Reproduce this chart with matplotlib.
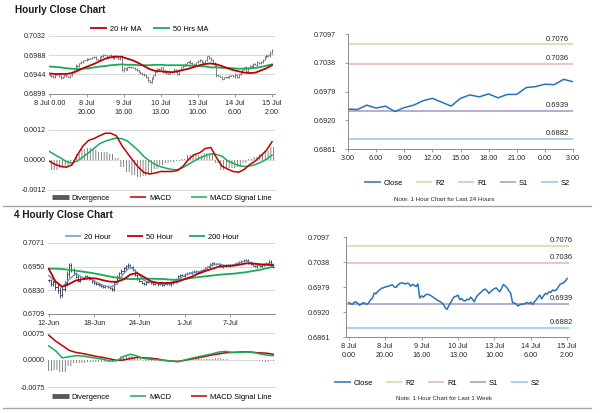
import numpy as np
import matplotlib
matplotlib.use('Agg')
import matplotlib.pyplot as plt
from matplotlib.lines import Line2D

plt.rcParams['font.family'] = ['Liberation Sans', 'DejaVu Sans']
plt.rcParams['hatch.linewidth'] = 0.6

# ---------------- hourly data, last week (8 Jul 0.00 -> 15 Jul 2.00) ----------------
hourly_close = [
    0.6942, 0.6940, 0.6938, 0.6943, 0.6944, 0.6940, 0.6936, 0.6939, 0.6942, 0.6940,
    0.6938, 0.6942, 0.6949, 0.6952, 0.6965, 0.6963, 0.6969, 0.6972, 0.6976, 0.6977,
    0.6979, 0.6980, 0.6981, 0.6983, 0.6984, 0.6979, 0.6978, 0.6984, 0.6987, 0.6989,
    0.6988, 0.6986, 0.6988, 0.6987, 0.6981, 0.6985, 0.6983, 0.6980, 0.6986, 0.6953,
    0.6958, 0.6955, 0.6960, 0.6962, 0.6961, 0.6959, 0.6956, 0.6953, 0.6950, 0.6947,
    0.6945, 0.6942, 0.6938, 0.6930, 0.6926, 0.6935, 0.6942, 0.6950, 0.6956, 0.6957,
    0.6960, 0.6949, 0.6952, 0.6947, 0.6946, 0.6950, 0.6949, 0.6955, 0.6950, 0.6944,
    0.6955, 0.6960, 0.6964, 0.6968, 0.6972, 0.6974, 0.6970, 0.6964, 0.6968, 0.6972,
    0.6975, 0.6977, 0.6972, 0.6968, 0.6976, 0.6985, 0.6981, 0.6977, 0.6970, 0.6964,
    0.6942, 0.6941, 0.6939, 0.6934, 0.6937, 0.6939, 0.6938, 0.6941, 0.6942, 0.6940,
    0.6943, 0.6938, 0.6944, 0.6949, 0.6955, 0.6960, 0.6951, 0.6958, 0.6964, 0.6962,
    0.6968, 0.6966, 0.6972, 0.6970, 0.6972, 0.6978, 0.6985, 0.6987, 0.6989, 0.6993,
    0.6999,
]
# half high-low extension beyond the body, in pips
hourly_wick = [
    3, 2, 4, 3, 2, 5, 3, 2, 3, 4, 2, 3, 5, 4, 6, 3, 2, 4, 3, 2,
    3, 4, 2, 3, 5, 3, 2, 4, 3, 5, 4, 3, 2, 4, 3, 5, 3, 2, 6, 4,
    5, 3, 2, 4, 3, 2, 3, 4, 3, 2, 4, 3, 5, 6, 4, 5, 3, 4, 3, 2,
    4, 3, 2, 3, 4, 2, 3, 5, 3, 4, 3, 2, 4, 3, 2, 3, 4, 3, 2, 3,
    4, 3, 2, 5, 4, 3, 5, 4, 3, 4, 6, 3, 2, 4, 3, 2, 3, 4, 2, 3,
    9, 4, 3, 2, 4, 3, 5, 3, 2, 4, 3, 2, 4, 3, 5, 4, 3, 6, 5, 10,
    6,
]
hourly_labels = ['8 Jul 0.00', '8 Jul\n20.00', '9 Jul\n16.00', '10 Jul\n13.00',
                 '13 Jul\n10.00', '14 Jul\n6.00', '15 Jul\n2.00']
week_labels = ['8 Jul\n0.00', '8 Jul\n20.00', '9 Jul\n16.00', '10 Jul\n13.00',
               '13 Jul\n10.00', '14 Jul\n6.00', '15 Jul\n2.00']

# indicators read every third hour
ma20_hr = [0.6946, 0.6945, 0.6945, 0.6945, 0.6947, 0.6952, 0.6958, 0.6963, 0.6968, 0.6974,
           0.6980, 0.6983, 0.6985, 0.6984, 0.6980, 0.6976, 0.6970, 0.6963, 0.6956, 0.6952,
           0.6951, 0.6950, 0.6949, 0.6951, 0.6954, 0.6957, 0.6961, 0.6965, 0.6968, 0.6969,
           0.6967, 0.6963, 0.6958, 0.6954, 0.6951, 0.6948, 0.6947, 0.6948, 0.6953, 0.6958,
           0.6965]
ma50_hr = [0.6962, 0.6961, 0.6960, 0.6958, 0.6957, 0.6956, 0.6957, 0.6958, 0.6960, 0.6962,
           0.6963, 0.6965, 0.6966, 0.6967, 0.6966, 0.6966, 0.6965, 0.6965, 0.6965, 0.6966,
           0.6966, 0.6965, 0.6965, 0.6965, 0.6965, 0.6964, 0.6964, 0.6963, 0.6962, 0.6960,
           0.6960, 0.6959, 0.6959, 0.6958, 0.6957, 0.6957, 0.6958, 0.6959, 0.6961, 0.6964,
           0.6967]
macd_hr = [-0.00005, -0.00018, -0.00025, -0.00029, -0.00020, 0.00020, 0.00056, 0.00078,
           0.00086, 0.00097, 0.00107, 0.00107, 0.00097, 0.00058, 0.00027, -0.00002,
           -0.00030, -0.00050, -0.00056, -0.00052, -0.00046, -0.00046, -0.00046, -0.00042,
           -0.00025, 0.00003, 0.00021, 0.00029, 0.00046, 0.00050, 0.00010, -0.00025,
           -0.00036, -0.00046, -0.00049, -0.00038, -0.00018, -0.00004, 0.00017, 0.00039,
           0.00073]
signal_hr = [0.00034, 0.00020, 0.00008, -0.00006, -0.00013, -0.00004, 0.00012, 0.00029,
             0.00047, 0.00065, 0.00075, 0.00082, 0.00088, 0.00085, 0.00076, 0.00057,
             0.00037, 0.00013, -0.00004, -0.00018, -0.00027, -0.00033, -0.00038, -0.00039,
             -0.00030, -0.00017, -0.00004, 0.00008, 0.00017, 0.00025, 0.00022, 0.00015,
             -0.00003, -0.00013, -0.00022, -0.00026, -0.00024, -0.00018, -0.00009, 0.00003,
             0.00020]

# ---------------- last 24 hours ----------------
day_close = [0.6943, 0.6942, 0.6951, 0.6945, 0.6949, 0.6938, 0.6946, 0.6951, 0.6960,
             0.6965, 0.6957, 0.6949, 0.6965, 0.6972, 0.6968, 0.6974, 0.6966, 0.6973,
             0.6973, 0.6987, 0.6989, 0.6994, 0.6993, 0.7004, 0.6999]
day_labels = ['3.00', '6.00', '9.00', '12.00', '15.00', '18.00', '21.00', '0.00', '3.00']

levels = [0.7076, 0.7036, 0.6939, 0.6882]
level_names = ['R2', 'R1', 'S1', 'S2']
level_colors = ['#d6d6a4', '#e2b6b6', '#a595bf', '#8ecbdd']

# ---------------- 4 hourly data ----------------
h4_close = [
    0.6880, 0.6862, 0.6872, 0.6845, 0.6830, 0.6808, 0.6835, 0.6868, 0.6912, 0.6958,
    0.6935, 0.6915, 0.6900, 0.6878, 0.6890, 0.6895, 0.6902, 0.6896, 0.6888, 0.6875,
    0.6868, 0.6862, 0.6856, 0.6850, 0.6848, 0.6852, 0.6846, 0.6840, 0.6836, 0.6870,
    0.6900, 0.6918, 0.6930, 0.6942, 0.6952, 0.6960, 0.6948, 0.6935, 0.6908, 0.6890,
    0.6875, 0.6868, 0.6864, 0.6870, 0.6874, 0.6868, 0.6862, 0.6866, 0.6860, 0.6864,
    0.6858, 0.6862, 0.6866, 0.6860, 0.6868, 0.6874, 0.6890, 0.6902, 0.6908, 0.6905,
    0.6912, 0.6916, 0.6920, 0.6925, 0.6922, 0.6926, 0.6924, 0.6930, 0.6934, 0.6942,
    0.6950, 0.6960, 0.6968, 0.6964, 0.6966, 0.6960, 0.6955, 0.6952, 0.6958, 0.6956,
    0.6960, 0.6958, 0.6964, 0.6970, 0.6976, 0.6980, 0.6984, 0.6982, 0.6972, 0.6964,
    0.6956, 0.6952, 0.6958, 0.6955, 0.6960, 0.6966, 0.6970, 0.6976, 0.6958, 0.6950,
]
h4_wick = [
    15, 20, 18, 25, 30, 35, 25, 22, 30, 25, 20, 15, 18, 12, 15, 10, 12, 14, 10, 12,
    10, 12, 8, 10, 12, 10, 8, 12, 15, 18, 12, 10, 12, 14, 18, 15, 12, 14, 10, 12,
    10, 8, 10, 12, 8, 10, 8, 10, 12, 8, 10, 12, 10, 8, 14, 12, 10, 12, 10, 8,
    10, 12, 8, 10, 12, 10, 8, 10, 12, 10, 12, 14, 10, 12, 10, 8, 10, 12, 10, 8,
    10, 12, 10, 8, 10, 12, 14, 10, 12, 10, 8, 10, 12, 10, 8, 10, 12, 14, 12, 10,
]
h4_labels = ['12-Jun', '18-Jun', '24-Jun', '1-Jul', '7-Jul']

# every third 4h bar
ma20_h4 = [0.6905, 0.6875, 0.6845, 0.6885, 0.6915, 0.6895, 0.6892, 0.6872, 0.6855, 0.6845,
           0.6862, 0.6915, 0.6950, 0.6920, 0.6880, 0.6870, 0.6864, 0.6862, 0.6864, 0.6885,
           0.6906, 0.6920, 0.6924, 0.6936, 0.6960, 0.6964, 0.6956, 0.6958, 0.6970, 0.6980,
           0.6966, 0.6956, 0.6964, 0.6962]
ma50_h4 = [0.6940, 0.6875, 0.6848, 0.6862, 0.6880, 0.6886, 0.6892, 0.6890, 0.6881, 0.6874,
           0.6873, 0.6885, 0.6910, 0.6918, 0.6898, 0.6876, 0.6868, 0.6867, 0.6868, 0.6874,
           0.6887, 0.6899, 0.6915, 0.6928, 0.6939, 0.6950, 0.6954, 0.6955, 0.6960, 0.6967,
           0.6967, 0.6963, 0.6960, 0.6958]
ma200_h4 = [0.6940, 0.6940, 0.6938, 0.6934, 0.6930, 0.6925, 0.6920, 0.6914, 0.6907, 0.6900,
            0.6894, 0.6889, 0.6887, 0.6888, 0.6889, 0.6889, 0.6888, 0.6887, 0.6884, 0.6883,
            0.6886, 0.6893, 0.6897, 0.6901, 0.6905, 0.6909, 0.6912, 0.6914, 0.6918, 0.6922,
            0.6928, 0.6934, 0.6942, 0.6950]
macd_h4 = [0.0039, 0.0026, 0.0006, 0.0009, 0.0012, 0.0011, 0.0008, 0.0005, 0.0002, -0.0003,
           -0.0002, 0.0010, 0.0016, 0.0011, 0.0004, 0.0002, 0.0001, -0.0001, -0.0003, -0.0005,
           0.0000, 0.0005, 0.0009, 0.0013, 0.0017, 0.0022, 0.0024, 0.0021, 0.0021, 0.0022,
           0.0022, 0.0017, 0.0014, 0.0012]
signal_h4 = [0.0069, 0.0053, 0.0040, 0.0027, 0.0021, 0.0018, 0.0014, 0.0010, 0.0007, 0.0003,
             -0.0001, 0.0000, 0.0004, 0.0007, 0.0006, 0.0005, 0.0003, -0.0001, -0.0003, -0.0004,
             -0.0001, 0.0003, 0.0006, 0.0010, 0.0014, 0.0017, 0.0020, 0.0021, 0.0022, 0.0023,
             0.0021, 0.0020, 0.0019, 0.0016]

RED = '#c00000'
GREEN = '#1aab5a'
BLUE = '#2a72b5'
GRAY = '#8c8c8c'
W, H = 600, 413

fig = plt.figure(figsize=(6, 4.13), dpi=100)


def box(l, t, r, b):
    return [l / W, 1 - b / H, (r - l) / W, (b - t) / H]


def style(ax, grid, ypad):
    for s in ['top', 'right']:
        ax.spines[s].set_visible(False)
    for s in ['left', 'bottom']:
        ax.spines[s].set_color(GRAY)
        ax.spines[s].set_linewidth(0.7)
    ax.tick_params(labelsize=5.2, colors=GRAY, labelcolor='#262626', length=2.5, width=0.6)
    ax.tick_params(axis='y', pad=ypad)
    ax.tick_params(axis='x', pad=2)
    if grid:
        ax.yaxis.grid(True, color='#d9d9d9', lw=0.7)
        ax.set_axisbelow(True)
        ax.tick_params(axis='y', length=0)


def ohlc(ax, close, wick, color):
    c = np.array(close)
    o = np.r_[c[0], c[:-1]]
    w = np.array(wick) * 1e-4 / 2
    x = np.arange(len(c))
    ax.vlines(x, np.minimum(o, c) - w, np.maximum(o, c) + w, color=color, lw=0.7)
    ax.hlines(c, x, x + 0.6, color=color, lw=0.6)
    ax.hlines(o, x - 0.6, x, color=color, lw=0.6)


def divergence(ax, x, macd, signal, width):
    ax.bar(x, np.array(macd) - np.array(signal), width=width, facecolor='white',
           edgecolor='#6e6e6e', hatch='||||||', lw=0)


def legend(ax, items, cx, cy, spacing):
    handles = [Line2D([], [], color=c, lw=lw, solid_capstyle='butt') for _, c, lw in items]
    ax.legend(handles, [t for t, _, _ in items], loc='center',
              bbox_to_anchor=(cx / W, 1 - cy / H), bbox_transform=fig.transFigure,
              ncol=len(items), frameon=False, fontsize=5.4, handlelength=2.2,
              handletextpad=0.4, columnspacing=spacing, borderaxespad=0)


def levels_panel(ax, x, y, xlim, xoff, ypad):
    style(ax, False, ypad)
    for val, col in zip(levels, level_colors):
        ax.axhline(val, color=col, lw=1.1)
        ax.annotate(f'{val:.4f}', xy=(1, val), xycoords=('axes fraction', 'data'),
                    xytext=(xoff, 1.2), textcoords='offset points', ha='right',
                    va='bottom', fontsize=5.5, color='#262626')
    ax.plot(x, y, color=BLUE, lw=1.1)
    ax.set_ylim(0.6861, 0.7097)
    ax.set_yticks([0.6861, 0.6920, 0.6979, 0.7038, 0.7097])
    ax.set_yticklabels(['0.6861', '0.6920', '0.6979', '0.7038', '0.7097'])
    ax.set_xlim(*xlim)
    items = [('Close', BLUE, 1.1)] + [(n, c, 1.1) for n, c in zip(level_names, level_colors)]
    return items


# ---------- hourly price chart ----------
hx = np.arange(len(hourly_close))
hx3 = np.arange(0, len(hourly_close), 3)

ax1 = fig.add_axes(box(49, 36, 275, 94))
style(ax1, True, 2)
ohlc(ax1, hourly_close, hourly_wick, '#7a7a7a')
ax1.plot(hx3, ma50_hr, color=GREEN, lw=1.3)
ax1.plot(hx3, ma20_hr, color=RED, lw=1.3)
ax1.set_ylim(0.6899, 0.7032)
ax1.set_yticks([0.6899, 0.6944, 0.6988, 0.7032])
ax1.set_yticklabels(['0.6899', '0.6944', '0.6988', '0.7032'])
ax1.set_xlim(-0.3, 121.6)
ax1.set_xticks(np.arange(0, 121, 20))
ax1.set_xticklabels(hourly_labels, linespacing=1.3)
ax1.spines['left'].set_visible(False)
legend(ax1, [('20 Hr MA', RED, 1.3), ('50 Hrs MA', GREEN, 1.3)], 149, 29, 1.6)

# ---------- hourly MACD ----------
ax2 = fig.add_axes(box(49, 130, 275, 190))
style(ax2, True, 2)
divergence(ax2, hx3, macd_hr, signal_hr, 3.0)
ax2.plot(hx3, signal_hr, color=GREEN, lw=1.1)
ax2.plot(hx3, macd_hr, color=RED, lw=1.1)
ax2.set_ylim(-0.0012, 0.0012)
ax2.set_yticks([-0.0012, 0.0, 0.0012])
ax2.set_yticklabels(['-0.0012', '0.0000', '0.0012'])
ax2.set_xlim(-0.3, 121.6)
ax2.set_xticks([])
ax2.spines['left'].set_visible(False)
ax2.spines['bottom'].set_color('#d9d9d9')
legend(ax2, [('Divergence', '#595959', 3.5), ('MACD', RED, 1.1),
             ('MACD Signal Line', GREEN, 1.1)], 162, 198, 2.6)

# ---------- last 24 hours ----------
ax3 = fig.add_axes(box(348, 34, 573, 149))
items = levels_panel(ax3, np.arange(len(day_close)), day_close, (0, 24), -3, 6)
ax3.set_xticks(np.arange(0, 25, 3))
ax3.set_xticklabels(day_labels)
legend(ax3, items, 467, 183, 1.7)
fig.text(444 / W, 1 - 200 / H, 'Note: 1 Hour Chart for Last 24 Hours', ha='center',
         va='center', fontsize=4.4, color='#262626')

# ---------- 4 hourly price chart ----------
qx3 = np.arange(0, len(h4_close), 3)

ax4 = fig.add_axes(box(48, 243, 275, 314))
style(ax4, True, 2)
ohlc(ax4, h4_close, h4_wick, '#3f4d60')
ax4.plot(qx3, ma20_h4, color='#6f93c4', lw=1.0)
ax4.plot(qx3, ma200_h4, color=GREEN, lw=1.3)
ax4.plot(qx3, ma50_h4, color=RED, lw=1.3)
ax4.set_ylim(0.6709, 0.7071)
ax4.set_yticks([0.6709, 0.6830, 0.6950, 0.7071])
ax4.set_yticklabels(['0.6709', '0.6830', '0.6950', '0.7071'])
ax4.set_xlim(-0.3, 99.8)
ax4.set_xticks(np.arange(0, 100, 20))
ax4.set_xticklabels(h4_labels)
ax4.spines['left'].set_visible(False)
legend(ax4, [('20 Hour', '#6f93c4', 1.1), ('50 Hour', RED, 1.3),
             ('200 Hour', GREEN, 1.3)], 152, 237, 2.1)

# ---------- 4 hourly MACD ----------
ax5 = fig.add_axes(box(48, 333, 275, 387))
style(ax5, True, 2)
divergence(ax5, qx3, macd_h4, signal_h4, 3.0)
ax5.plot(qx3, signal_h4, color=RED, lw=1.1)
ax5.plot(qx3, macd_h4, color=GREEN, lw=1.1)
ax5.set_ylim(-0.0075, 0.0075)
ax5.set_yticks([-0.0075, 0.0, 0.0075])
ax5.set_yticklabels(['-0.0075', '0.0000', '0.0075'])
ax5.set_xlim(-0.3, 99.8)
ax5.set_xticks([])
ax5.spines['left'].set_visible(False)
ax5.spines['bottom'].set_color('#d9d9d9')
legend(ax5, [('Divergence', '#595959', 3.5), ('MACD', GREEN, 1.1),
             ('MACD Signal Line', RED, 1.1)], 162, 397, 2.6)

# ---------- last week hourly ----------
ax6 = fig.add_axes(box(346, 237, 569, 337))
items = levels_panel(ax6, hx, hourly_close, (-1.5, 121), 3, 9)
ax6.set_xticks(np.arange(0, 121, 20))
ax6.set_xticklabels(week_labels, linespacing=1.3)
legend(ax6, items, 437, 383, 1.7)
fig.text(444 / W, 1 - 398 / H, 'Note: 1 Hour Chart for Last 1 Week', ha='center',
         va='center', fontsize=4.4, color='#262626')

# ---------- titles and separators ----------
fig.text(15 / W, 1 - 10 / H, 'Hourly Close Chart', fontsize=7.2, fontweight='bold',
         va='center', color='#1a1a1a')
fig.text(14 / W, 1 - 215 / H, '4 Hourly Close Chart', fontsize=7.2, fontweight='bold',
         va='center', color='#1a1a1a')
for yy in [205.5, 408]:
    fig.add_artist(Line2D([3 / W, 591 / W], [1 - yy / H, 1 - yy / H], color='#a6a6a6', lw=1))

fig.savefig('out.png', dpi=100, facecolor='white')
